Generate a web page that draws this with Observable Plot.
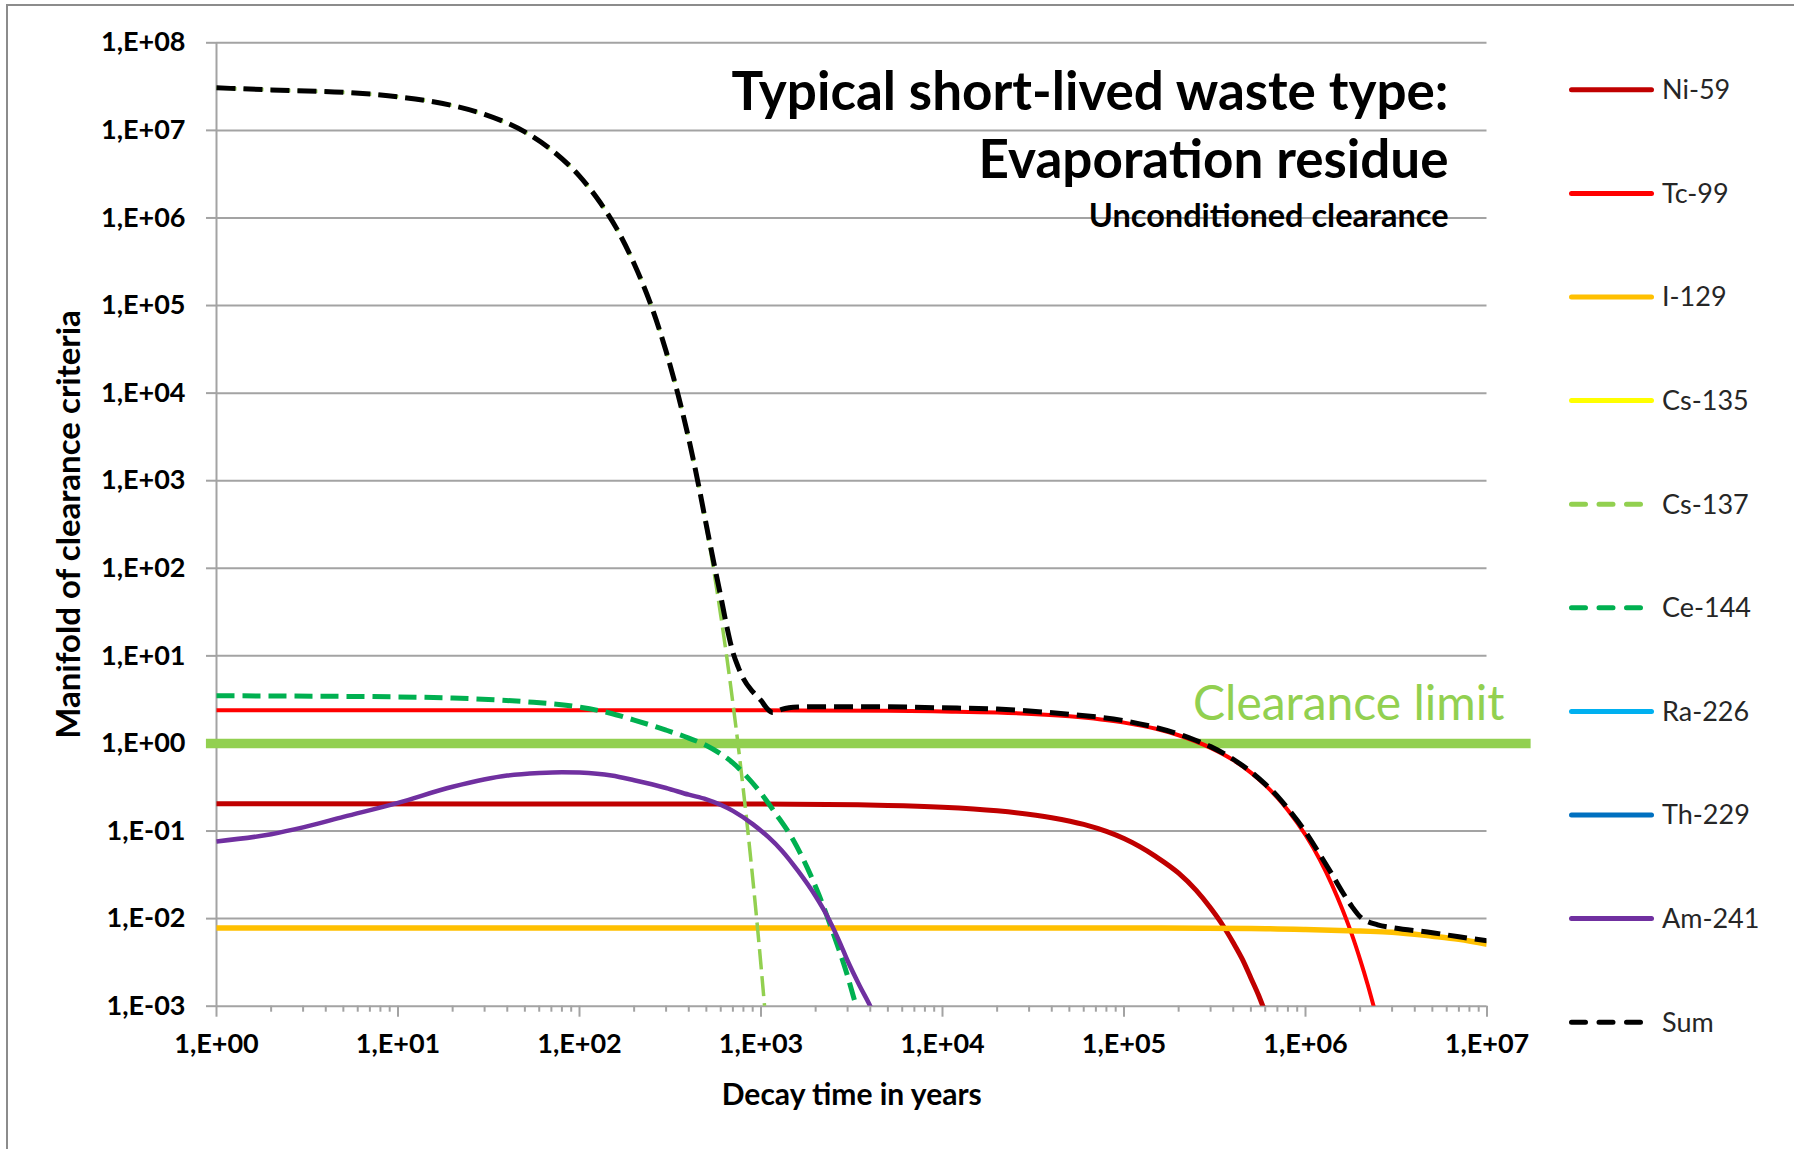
<!DOCTYPE html>
<html>
<head>
<meta charset="utf-8">
<script src="https://cdn.jsdelivr.net/npm/d3@7"></script>
<script src="https://cdn.jsdelivr.net/npm/@observablehq/plot@0.6"></script>
<style>
  html, body { margin: 0; padding: 0; background: #fff; }
  #wrap { position: relative; width: 1794px; height: 1149px; overflow: hidden; font-family: Lato, "Open Sans", sans-serif; }
  #border { position: absolute; left: 6px; top: 4px; width: 2000px; height: 2000px; border-top: 2px solid #8c8c8c; border-left: 2px solid #8c8c8c; }
  #wrap svg { position: absolute; left: 0; top: 0; }
</style>
</head>
<body>
<div id="wrap"><div id="border"></div></div>
<script>
// ---------------- data (decay time in years, manifold of clearance criteria) ----------------
const ni59 = [[1,0.205],[1000,0.203],[5000,0.196],[10000,0.187],[20000,0.17],[40000,0.142],[60000,0.119],[80000,0.099],[100000,0.082],[150000,0.051],[200000,0.033],[250000,0.021],[300000,0.0132],[350000,0.0084],[400000,0.0053],[450000,0.0034],[500000,0.0021],[550000,0.00135],[600000,0.00085]];
const tc99 = [[1,2.4],[1000,2.39],[5000,2.36],[10000,2.32],[20000,2.26],[50000,2.04],[100000,1.73],[150000,1.47],[200000,1.24],[300000,0.89],[400000,0.645],[500000,0.465],[600000,0.334],[700000,0.24],[800000,0.173],[1000000,0.09],[1200000,0.047],[1400000,0.0243],[1600000,0.0126],[1800000,0.0066],[2000000,0.0034],[2200000,0.00177],[2400000,0.00092]];
const i129 = [[1,0.0078],[100000,0.0078],[500000,0.0077],[1000000,0.0075],[2000000,0.0072],[3000000,0.007],[5000000,0.0063],[7000000,0.0058],[10000000,0.0051]];
const cs135 = [];
const cs137 = [[1,3.05e7],[2,2.9e7],[5,2.72e7],[10,2.42e7],[20,1.92e7],[30,1.52e7],[50,9.6e6],[70,6.0e6],[100,3.0e6],[130,1.5e6],[160,7.6e5],[200,3.0e5],[250,9.6e4],[300,3.0e4],[350,9.4e3],[400,3.0e3],[450,940],[500,295],[550,93],[600,29],[650,9.2],[700,2.9],[750,0.92],[800,0.29],[850,0.092],[900,0.029],[950,0.0092],[1000,0.0029],[1050,0.00092]];
const ce144 = [[1,3.5],[5,3.45],[10,3.4],[20,3.3],[50,3.0],[100,2.6],[150,2.2],[200,1.85],[300,1.42],[400,1.15],[500,0.95],[600,0.76],[700,0.6],[800,0.46],[1000,0.27],[1200,0.16],[1500,0.08],[1800,0.038],[2100,0.018],[2500,0.0068],[3000,0.0022],[3300,0.0011],[3500,0.0007]];
const ra226 = [];
const th229 = [];
const am241 = [[1,0.076],[2,0.092],[3,0.11],[5,0.145],[10,0.21],[20,0.32],[40,0.43],[60,0.46],[80,0.47],[100,0.465],[150,0.43],[200,0.38],[300,0.31],[400,0.26],[500,0.23],[700,0.17],[900,0.12],[1100,0.085],[1300,0.06],[1600,0.035],[2000,0.018],[2300,0.011],[2700,0.0055],[3000,0.0033],[3500,0.0017],[4000,0.001],[4200,0.0008]];
const sum = [[1,3.06e7],[2,2.9e7],[5,2.72e7],[10,2.42e7],[20,1.92e7],[30,1.52e7],[50,9.6e6],[70,6.0e6],[100,3.0e6],[130,1.5e6],[160,7.6e5],[200,3.0e5],[250,9.6e4],[300,3.0e4],[350,9.4e3],[400,3.0e3],[450,950],[500,310],[550,115],[600,48],[650,21],[700,11],[750,7.4],[800,5.5],[900,3.9],[1000,3.1],[1080,2.5],[1160,2.25],[1300,2.45],[1600,2.6],[2000,2.63],[5000,2.62],[10000,2.55],[20000,2.47],[50000,2.15],[100000,1.82],[150000,1.52],[200000,1.28],[250000,1.08],[300000,0.92],[400000,0.66],[500000,0.475],[600000,0.343],[700000,0.25],[800000,0.18],[1000000,0.098],[1200000,0.054],[1400000,0.032],[1600000,0.02],[1800000,0.0138],[2000000,0.0105],[2500000,0.0085],[3000000,0.0079],[5000000,0.0069],[7000000,0.0062],[10000000,0.0056]];

const seriesNames  = ["Ni-59","Tc-99","I-129","Cs-135","Cs-137","Ce-144","Ra-226","Th-229","Am-241","Sum"];
const seriesValues = [ni59, tc99, i129, cs135, cs137, ce144, ra226, th229, am241, sum];
const seriesColors = ["#C00000","#FF0000","#FFC000","#FFFF00","#92D050","#00B050","#00B0F0","#0070C0","#7030A0","#000000"];
const seriesDashed = [false,false,false,false,true,true,false,false,false,true];

const clearanceLimit = 1;
const clearanceSpan = [0.88, 1.75e7];

const xTicks = [1,1e1,1e2,1e3,1e4,1e5,1e6,1e7];
const xTickLabels = ["1,E+00","1,E+01","1,E+02","1,E+03","1,E+04","1,E+05","1,E+06","1,E+07"];
const xMinorTicks = [];
for (const d of xTicks.slice(0, -1)) for (let k = 2; k <= 9; k++) xMinorTicks.push(d * k);
const yTicks = [1e-3,1e-2,1e-1,1,1e1,1e2,1e3,1e4,1e5,1e6,1e7,1e8];
const yTickLabels = ["1,E-03","1,E-02","1,E-01","1,E+00","1,E+01","1,E+02","1,E+03","1,E+04","1,E+05","1,E+06","1,E+07","1,E+08"];

const titleLines = ["Typical short-lived waste type:", "Evaporation residue"];
const subtitle = "Unconditioned clearance";
const clearanceLabel = "Clearance limit";
const xLabel = "Decay time in years";
const yLabel = "Manifold of clearance criteria";

// ---------------- styles per series ----------------
const widthFor = {"Ni-59": 5, "Tc-99": 4, "I-129": 5.5, "Cs-135": 5, "Cs-137": 3.5, "Ce-144": 5, "Ra-226": 5, "Th-229": 5, "Am-241": 4.5, "Sum": 5};
const dashFor = {"Cs-137": "20,7", "Ce-144": "18,8", "Sum": "19,8"};

const W = 1794, H = 1149;
const gridColor = "#a3a3a3";

const seriesMarks = seriesNames.map((name, i) => {
  const rows = seriesValues[i].map(([t, v]) => ({t, v}));
  return Plot.line(rows, {
    x: "t", y: "v",
    stroke: seriesColors[i],
    strokeWidth: widthFor[name],
    strokeDasharray: seriesDashed[i] ? dashFor[name] : undefined,
    strokeLinecap: "butt",
    strokeLinejoin: "round",
    curve: "monotone-x",
    clip: true
  });
});

const chart = Plot.plot({
  width: W,
  height: H,
  marginLeft: 216,
  marginRight: W - 1486.5,
  marginTop: 42.3,
  marginBottom: H - 1005.7,
  style: {fontFamily: "Lato, 'Open Sans', sans-serif", background: "transparent", overflow: "visible"},
  x: {type: "log", domain: [1, 1e7], label: null, axis: null},
  y: {type: "log", domain: [1e-3, 1e8], label: null, axis: null},
  marks: [
    Plot.ruleY(yTicks, {stroke: gridColor, strokeWidth: 2}),
    Plot.ruleX([1], {stroke: gridColor, strokeWidth: 2}),
    Plot.axisY({ticks: yTicks, tickFormat: d => yTickLabels[yTicks.indexOf(d)], tickSize: 10, tickPadding: 21,
      stroke: gridColor, strokeWidth: 2, fill: "#000", fontSize: 27, fontWeight: "bold", label: null}),
    Plot.axisX({ticks: xTicks, tickFormat: d => xTickLabels[xTicks.indexOf(d)], tickSize: 11, tickPadding: 17,
      stroke: gridColor, strokeWidth: 2, fill: "#000", fontSize: 27, fontWeight: "bold", label: null}),
    Plot.axisX({ticks: xMinorTicks, tickFormat: () => "", tickSize: 6, stroke: gridColor, strokeWidth: 2, label: null}),
    Plot.ruleY([clearanceLimit], {x1: clearanceSpan[0], x2: clearanceSpan[1], stroke: "#92D050", strokeWidth: 9.5}),
    ...seriesMarks,
    Plot.text([titleLines[0]], {frameAnchor: "top-right", textAnchor: "end", lineAnchor: "middle", dx: -38.5, dy: 50.5, fontSize: 53, fontWeight: "bold", fill: "#000"}),
    Plot.text([titleLines[1]], {frameAnchor: "top-right", textAnchor: "end", lineAnchor: "middle", dx: -38.5, dy: 118, fontSize: 53, fontWeight: "bold", fill: "#000"}),
    Plot.text([subtitle], {frameAnchor: "top-right", textAnchor: "end", lineAnchor: "middle", dx: -38.5, dy: 174, fontSize: 32.5, fontWeight: "bold", fill: "#000"}),
    Plot.text([clearanceLabel], {y: [clearanceLimit], frameAnchor: "right", textAnchor: "end", lineAnchor: "middle", dx: 17.5, dy: -39, fontSize: 48, fill: "#92D050"}),
    Plot.text([xLabel], {frameAnchor: "bottom", textAnchor: "middle", lineAnchor: "middle", dy: 89, fontSize: 30, fontWeight: "bold", fill: "#000"}),
    Plot.text([yLabel], {frameAnchor: "left", textAnchor: "middle", lineAnchor: "middle", rotate: -90, dx: -147, fontSize: 33, fontWeight: "bold", fill: "#000"})
  ]
});
document.getElementById("wrap").appendChild(chart);

// ---------------- legend ----------------
const legendTop = 89.8, legendStep = 103.6;
const lg = d3.select("#wrap").append("svg")
  .attr("width", W).attr("height", H)
  .style("pointer-events", "none");
seriesNames.forEach((name, i) => {
  const y = legendTop + i * legendStep;
  const line = lg.append("line")
    .attr("y1", y).attr("y2", y)
    .attr("stroke", seriesColors[i])
    .attr("stroke-width", 5)
    .attr("stroke-linecap", "round");
  if (seriesDashed[i]) {
    line.attr("x1", 1571.5).attr("x2", 1640.5).attr("stroke-dasharray", "14,13.5");
  } else {
    line.attr("x1", 1571.5).attr("x2", 1651.5);
  }
  lg.append("text")
    .attr("x", 1662).attr("y", y)
    .attr("dy", "0.35em")
    .attr("font-family", "Lato, 'Open Sans', sans-serif")
    .attr("font-size", 27)
    .attr("fill", "#262626")
    .text(name);
});
</script>
</body>
</html>
